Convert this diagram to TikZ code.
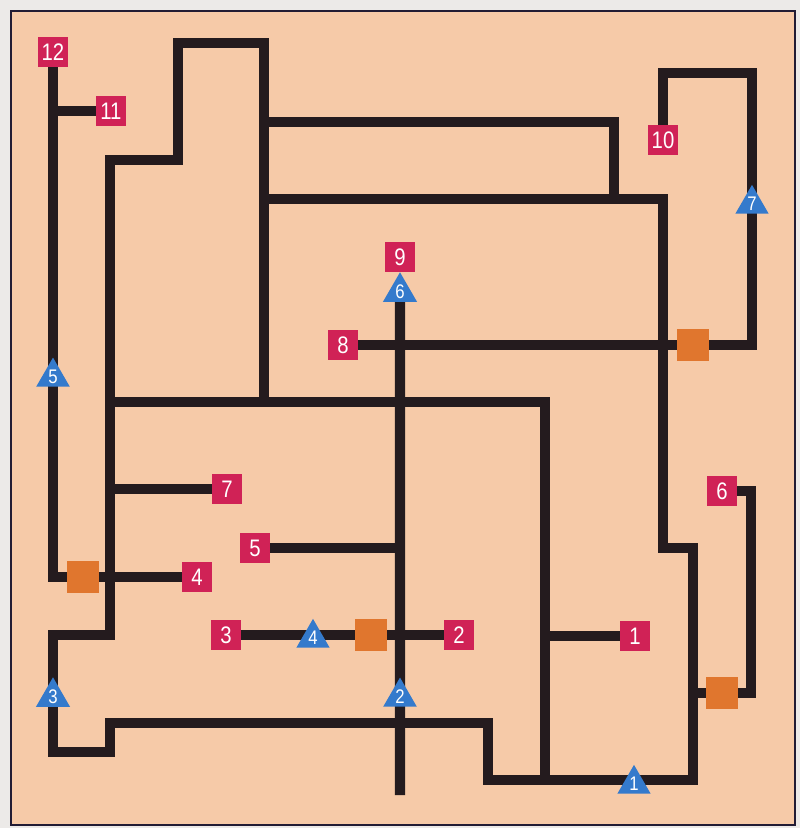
\documentclass[tikz,border=0pt]{standalone}
\usepackage{fontspec}
\newfontfamily\tagfont[FakeStretch=0.85]{Liberation Sans}
\usetikzlibrary{shapes.geometric,backgrounds}

\definecolor{paper}{RGB}{246,202,168}
\definecolor{margin}{RGB}{236,234,232}
\definecolor{wallink}{RGB}{36,27,30}
\definecolor{frameink}{RGB}{34,28,52}
\definecolor{tagred}{RGB}{208,34,86}
\definecolor{tagblue}{RGB}{52,122,204}
\definecolor{tagorange}{RGB}{224,118,46}

\begin{document}
\begin{tikzpicture}[
    x=0.025cm, y=-0.025cm,
    wall/.style={draw=wallink, line width=7.3pt, line join=miter, line cap=rect},
    room/.style={rectangle, fill=tagred, text=white, minimum size=0.76cm, inner sep=0pt, font=\tagfont\fontsize{17}{17}\selectfont},
    gate/.style={regular polygon, regular polygon sides=3, fill=tagblue, text=white, minimum size=0.95cm, inner sep=0pt, font=\tagfont\fontsize{14}{14}\selectfont},
    crate/.style={rectangle, fill=tagorange, minimum size=0.78cm, inner sep=0pt}
]
\useasboundingbox (0,0) rectangle (800,828);

% Rooms
\node[room] (r12) at (53,52) {12};
\node[room] (r11) at (111,111) {11};
\node[room] (r10) at (663,140) {10};
\node[room] (r9) at (400,257) {9};
\node[room] (r8) at (343,345) {8};
\node[room] (r7) at (227,489) {7};
\node[room] (r6) at (722,491) {6};
\node[room] (r5) at (255,548) {5};
\node[room] (r4) at (197,577) {4};
\node[room] (r3) at (226,635) {3};
\node[room] (r2) at (459,635) {2};
\node[room] (r1) at (635,636) {1};

% Gates
\node[gate] (g1) at (634,784) {1};
\node[gate] (g2) at (400,697) {2};
\node[gate] (g3) at (53,697) {3};
\node[gate] (g4) at (313,638) {4};
\node[gate] (g5) at (53,377) {5};
\node[gate] (g6) at (400,292) {6};
\node[gate] (g7) at (752,204) {7};

% Crates
\node[crate] (c1) at (83,577) {};
\node[crate] (c2) at (371,635) {};
\node[crate] (c3) at (693,345) {};
\node[crate] (c4) at (722,693) {};

\begin{scope}[on background layer]
% Sheet
\fill[margin] (0,0) rectangle (800,828);
\filldraw[fill=paper, draw=frameink, line width=2pt] (11,11) rectangle (795,825);

% Walls
\draw[wall] (110,635) -- (110,160) -- (178,160) -- (178,43) -- (264,43) -- (264,402);
\draw[wall] (264,122) -- (614,122) -- (614,199);
\draw[wall] (264,199) -- (663,199) -- (663,548) -- (693,548) -- (693,780) -- (488,780) -- (488,723)
    -- (110,723) -- (110,752) -- (53,752) -- (53,635) -- (110,635);
\draw[wall] (110,402) -- (545,402) -- (545,780);
\draw[wall] (g6) -- (400,790);

% Paths to the rooms
\draw[wall] (r12) -- (53,577) -- (r4);
\draw[wall] (53,111) -- (r11);
\draw[wall] (110,489) -- (r7);
\draw[wall] (r5) -- (400,548);
\draw[wall] (r3) -- (r2);
\draw[wall] (545,636) -- (r1);
\draw[wall] (r8) -- (752,345) -- (752,73) -- (663,73) -- (r10);
\draw[wall] (r6) -- (751,491) -- (751,693) -- (c4);
\draw[wall] (c4) -- (693,693);
\end{scope}

\end{tikzpicture}
\end{document}
